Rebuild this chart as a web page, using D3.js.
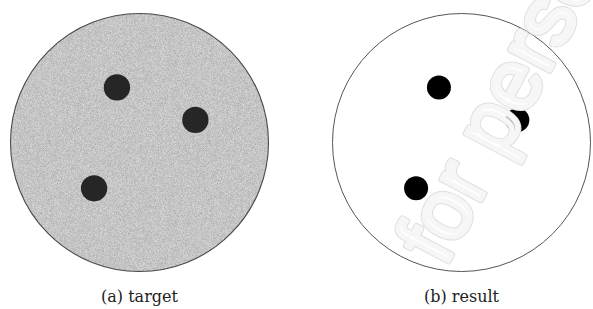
<!DOCTYPE html>
<html>
<head>
<meta charset="utf-8">
<script src="https://cdn.jsdelivr.net/npm/d3@7"></script>
<style>
  body { margin: 0; background: #fff; }
  svg { display: block; }
</style>
</head>
<body>
<div id="chart"></div>
<script>
// panels and the three blobs, in unit-disk coordinates (y up)
const panels = ["(a) target", "(b) result"];
const dotX = [-0.175, 0.433, -0.352];
const dotY = [0.427, 0.175, -0.355];
const dotR = [0.102, 0.093];   // blob radius per panel, fraction of disk radius

var width = 593, height = 309;
var R = 129, cy = 142.5;

var svg = d3.select("#chart").append("svg")
	.attr("width", width)
	.attr("height", height);

// grain for the target disk
var defs = svg.append("defs");
var f = defs.append("filter").attr("id", "grain")
	.attr("x", 0).attr("y", 0).attr("width", 1).attr("height", 1)
	.attr("color-interpolation-filters", "sRGB");
f.append("feTurbulence").attr("type", "fractalNoise")
	.attr("baseFrequency", 1.6).attr("numOctaves", 1).attr("seed", 5).attr("result", "n");
f.append("feColorMatrix").attr("in", "n").attr("type", "matrix")
	.attr("values", "0.32 0 0 0 0.61  0.32 0 0 0 0.61  0.32 0 0 0 0.61  0 0 0 0 1")
	.attr("result", "g");
f.append("feComposite").attr("in", "g").attr("in2", "SourceGraphic").attr("operator", "in");
defs.append("filter").attr("id", "soft")
	.append("feGaussianBlur").attr("stdDeviation", 0.6);

var px = d3.scalePoint().domain(panels).range([139.5, 461.5]);

panels.forEach(function(p, i) {
	var cx = px(p);
	var x = d3.scaleLinear().domain([-1, 1]).range([cx - R, cx + R]);
	var y = d3.scaleLinear().domain([-1, 1]).range([cy + R, cy - R]);
	var g = svg.append("g");

	if (i == 0) {
		g.append("circle")
			.attr("cx", cx).attr("cy", cy).attr("r", R)
			.attr("fill", "#c4c4c4")
			.attr("filter", "url(#grain)");
	}
	g.append("circle")
		.attr("cx", cx).attr("cy", cy).attr("r", R)
		.attr("fill", "none")
		.attr("stroke", i == 0 ? "#4a4a4a" : "#555")
		.attr("stroke-width", i == 0 ? 1.1 : 1);

	g.selectAll(".dot")
		.data(d3.range(dotX.length))
		.enter().append("circle")
		.attr("class", "dot")
		.attr("cx", function(k) { return x(dotX[k]); })
		.attr("cy", function(k) { return y(dotY[k]); })
		.attr("r", dotR[i] * R)
		.attr("fill", i == 0 ? "#262626" : "#000")
		.attr("filter", "url(#soft)");

	g.append("text")
		.attr("x", cx).attr("y", 302)
		.attr("text-anchor", "middle")
		.attr("font-family", "DejaVu Serif")
		.attr("font-size", 16)
		.attr("fill", "#222")
		.text(p);
});

// watermark: grey rim, then thick white letters
var wm = svg.append("g").attr("transform", "translate(445,268) rotate(-62)")
	.attr("font-family", "Liberation Sans")
	.attr("font-size", 85);
wm.append("text")
	.attr("fill", "none")
	.attr("stroke", "#dedede")
	.attr("stroke-width", 6)
	.attr("stroke-linejoin", "round")
	.text("for perso");
wm.append("text")
	.attr("fill", "#fff")
	.attr("stroke", "#fff")
	.attr("stroke-width", 4)
	.attr("stroke-linejoin", "round")
	.attr("opacity", 0.75)
	.text("for perso");
</script>
</body>
</html>
